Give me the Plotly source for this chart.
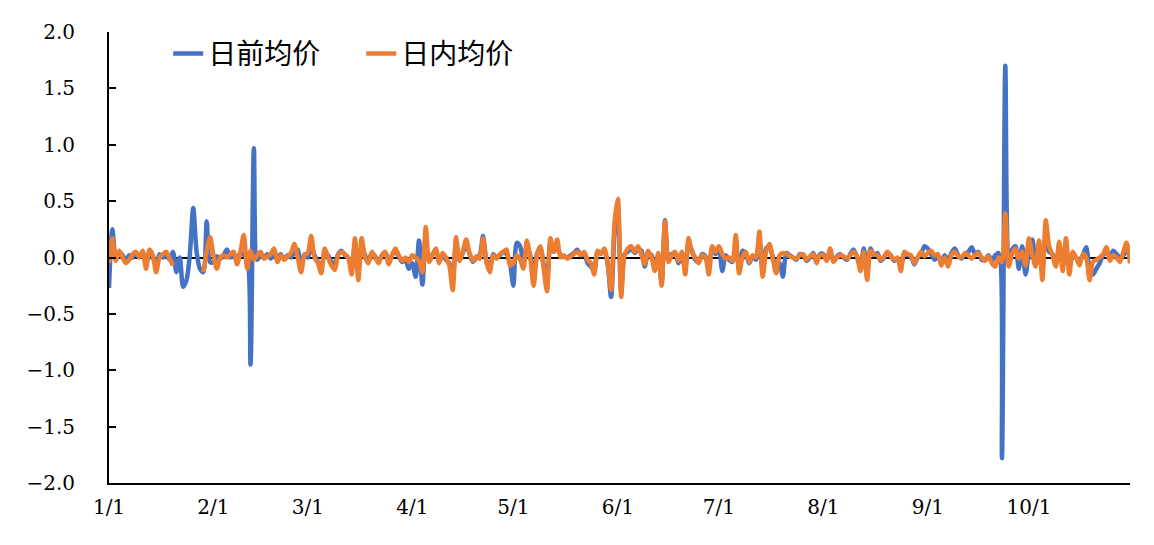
import pandas as pd
import plotly.graph_objects as go

# daily values, 1/1 .. 10/31
dates = pd.date_range("2023-01-01", "2023-10-31", freq="D")

day_ahead = (
    # Jan
    [-0.27, 0.25, 0.00, 0.05, 0.02, -0.03, 0.02, 0.00, 0.04, 0.01,
     0.03, -0.05, 0.04, 0.00, -0.06, 0.03, 0.00, 0.02, -0.02, 0.05,
     -0.13, 0.00, -0.26, -0.20, 0.03, 0.44, 0.05, -0.10, -0.13, 0.32, -0.04]
    # Feb
    + [-0.04, 0.01, -0.01, 0.02, 0.07, 0.00, 0.02, -0.03, 0.04, 0.02,
       0.00, -0.95, 0.97, -0.02, 0.02, 0.00, 0.03, -0.01, 0.04, 0.00,
       0.03, -0.02, 0.02, 0.00, 0.05, 0.07, -0.10, 0.03]
    # Mar
    + [0.00, 0.10, 0.02, -0.04, -0.08, 0.03, 0.02, -0.04, -0.05, 0.03,
       0.06, 0.02, 0.00, -0.10, 0.12, -0.12, 0.10, 0.02, -0.03, 0.04,
       0.01, -0.04, 0.02, 0.04, -0.03, 0.02, 0.06, 0.01, -0.04, -0.02, -0.10]
    # Apr
    + [-0.05, -0.17, 0.15, -0.24, 0.15, -0.02, 0.03, 0.06, -0.04, 0.03,
       -0.02, -0.05, -0.20, 0.12, -0.02, 0.04, 0.12, 0.03, -0.04, 0.00,
       0.02, 0.19, -0.03, -0.10, 0.03, 0.00, 0.02, 0.05, 0.03, -0.05]
    # May
    + [-0.25, 0.13, 0.10, -0.05, 0.10, 0.02, -0.15, 0.03, 0.08, -0.06,
       -0.20, 0.12, 0.05, 0.10, 0.02, 0.01, 0.00, 0.02, 0.04, 0.07,
       0.02, 0.04, -0.05, -0.08, -0.12, 0.05, 0.04, 0.06, -0.06, -0.35, 0.20]
    # Jun
    + [0.45, -0.30, 0.03, 0.05, 0.08, 0.04, 0.07, 0.06, -0.08, 0.04,
       0.02, -0.10, 0.02, -0.22, 0.33, -0.02, 0.03, 0.04, -0.05, 0.02,
       -0.10, 0.12, 0.06, -0.02, -0.04, 0.03, 0.01, -0.10, 0.08, 0.03]
    # Jul
    + [0.08, -0.12, 0.02, -0.02, -0.04, 0.08, -0.08, 0.06, 0.03, -0.05,
       0.01, -0.02, 0.15, -0.12, 0.08, 0.10, 0.00, -0.10, -0.05, -0.17,
       0.04, 0.02, 0.00, -0.02, 0.03, 0.02, -0.03, 0.00, 0.04, -0.04, 0.03]
    # Aug
    + [0.03, -0.02, 0.05, -0.03, 0.01, 0.03, 0.00, -0.02, 0.03, 0.07,
       0.00, -0.08, 0.08, -0.12, 0.08, 0.02, 0.04, -0.03, 0.00, 0.04,
       0.02, -0.03, -0.01, -0.08, 0.04, 0.02, 0.01, -0.06, 0.00, 0.03, 0.10]
    # Sep
    + [0.08, 0.03, -0.02, 0.01, -0.04, 0.02, -0.03, 0.04, 0.08, 0.02,
       -0.01, 0.03, 0.05, 0.09, 0.03, 0.05, -0.02, -0.02, 0.02, -0.03,
       0.02, 0.04, -1.78, 1.70, -0.05, 0.07, 0.10, -0.10, 0.10, -0.15]
    # Oct
    + [0.05, 0.16, -0.05, 0.10, -0.10, 0.20, 0.05, 0.03, -0.05, 0.08,
       -0.05, 0.10, -0.08, 0.02, 0.00, -0.03, 0.02, 0.09, -0.10, -0.15,
       -0.10, -0.05, 0.02, 0.05, 0.01, 0.06, 0.03, 0.00, 0.02, 0.05, 0.02]
)

intraday = (
    # Jan (no data 1/21-1/28)
    [-0.05, 0.17, -0.03, 0.06, 0.00, -0.05, -0.02, 0.03, 0.05, 0.00,
     0.06, -0.10, 0.07, 0.02, -0.13, 0.00, 0.03, 0.05, -0.01, -0.07,
     None, None, None, None, None, None, None, None, -0.13, 0.05, 0.18]
    # Feb
    + [0.02, -0.10, 0.00, 0.02, 0.00, 0.03, 0.05, -0.06, 0.05, 0.20,
       -0.10, 0.06, -0.02, 0.02, 0.05, -0.01, 0.01, 0.03, 0.08, -0.04,
       0.02, -0.02, 0.01, 0.04, 0.12, 0.00, -0.13, 0.02]
    # Mar
    + [0.04, 0.19, 0.00, -0.05, -0.14, 0.08, 0.00, -0.07, -0.11, 0.02,
       0.05, 0.03, 0.00, -0.15, 0.17, -0.20, 0.17, 0.00, -0.05, 0.05,
       0.00, -0.05, 0.02, 0.05, -0.06, 0.02, 0.08, 0.02, -0.03, 0.00, -0.04]
    # Apr
    + [0.02, 0.00, -0.03, -0.13, 0.27, -0.04, 0.02, 0.08, -0.05, 0.04,
       0.00, -0.07, -0.29, 0.18, -0.03, 0.05, 0.16, 0.04, -0.03, 0.01,
       -0.01, 0.17, -0.04, -0.13, 0.02, -0.01, 0.03, 0.05, 0.07, -0.07]
    # May
    + [-0.05, 0.02, -0.02, -0.10, 0.15, 0.00, -0.25, 0.02, 0.10, -0.10,
       -0.30, 0.17, 0.05, 0.16, 0.00, 0.02, -0.01, 0.01, 0.03, 0.05,
       0.02, 0.05, -0.02, -0.05, -0.15, 0.06, 0.03, 0.08, -0.05, -0.29, 0.30]
    # Jun
    + [0.52, -0.35, 0.02, 0.08, 0.10, 0.05, 0.10, 0.02, -0.06, 0.06,
       0.00, -0.12, 0.04, -0.25, 0.32, -0.04, 0.02, 0.05, -0.03, 0.05,
       -0.15, 0.17, 0.05, 0.00, -0.05, 0.02, 0.00, -0.15, 0.10, 0.05]
    # Jul
    + [0.10, 0.03, -0.01, 0.00, -0.03, 0.20, -0.14, 0.00, 0.05, -0.04,
       0.02, 0.00, 0.23, -0.17, 0.05, 0.12, -0.01, -0.14, 0.02, 0.04,
       0.03, 0.01, 0.00, -0.01, 0.02, 0.03, -0.02, 0.01, 0.03, -0.05, 0.02]
    # Aug
    + [0.02, -0.03, 0.08, -0.04, 0.00, 0.02, 0.01, -0.01, 0.02, 0.05,
       0.01, -0.12, 0.05, -0.20, 0.06, 0.03, 0.02, -0.02, 0.01, 0.05,
       0.01, -0.02, 0.00, -0.12, 0.05, 0.03, 0.02, -0.05, 0.00, 0.05, 0.01]
    # Sep
    + [0.04, 0.06, 0.02, 0.03, -0.07, 0.00, -0.08, 0.02, 0.05, 0.01,
       0.00, 0.04, 0.02, -0.01, 0.02, 0.04, 0.00, -0.03, 0.01, -0.05,
       -0.08, 0.00, -0.04, 0.39, -0.08, 0.03, 0.08, -0.01, 0.05, -0.07]
    # Oct
    + [0.17, 0.02, -0.08, 0.15, -0.20, 0.33, 0.10, 0.02, -0.08, 0.14,
       -0.12, 0.17, -0.15, 0.05, 0.00, -0.07, 0.03, 0.00, -0.20, -0.04,
       -0.02, 0.00, 0.03, 0.09, -0.03, 0.02, 0.00, -0.04, 0.05, 0.13, -0.05]
)

month_ticks = pd.date_range("2023-01-01", "2023-10-01", freq="MS")
month_labels = ["1/1", "2/1", "3/1", "4/1", "5/1", "6/1", "7/1", "8/1", "9/1", "10/1"]

SERIF = "DejaVu Serif, Noto Sans CJK SC, serif"
TICK_FONT = dict(family="DejaVu Serif", size=20, color="black")

fig = go.Figure()
fig.add_trace(go.Scatter(
    x=dates, y=day_ahead, name="日前均价", mode="lines",
    line=dict(color="#4472C4", width=4.5, shape="spline", smoothing=0.8),
))
fig.add_trace(go.Scatter(
    x=dates, y=intraday, name="日内均价", mode="lines",
    line=dict(color="#ED7D31", width=4.5, shape="spline", smoothing=0.8),
    connectgaps=False,
))

# page body has an 8px margin, so the margins are shifted by that much
fig.update_layout(
    width=1154, height=545,
    margin=dict(l=101, r=32, t=15, b=70),
    paper_bgcolor="white", plot_bgcolor="white",
    font=dict(family=SERIF, size=20, color="black"),
    showlegend=True,
    legend=dict(
        orientation="h", x=0.058, y=1.007, xanchor="left", yanchor="top",
        font=dict(size=28, family="Noto Sans CJK SC"),
        bgcolor="rgba(0,0,0,0)", entrywidth=148, entrywidthmode="pixels",
    ),
)
fig.update_xaxes(
    range=[dates[0], dates[-1]],
    tickvals=month_ticks, ticktext=month_labels, tickfont=TICK_FONT,
    showgrid=False, zeroline=False,
    showline=True, linecolor="black", linewidth=2,
    ticks="", ticklabelstandoff=5,
)
fig.update_yaxes(
    range=[-2, 2], dtick=0.5, tickformat=".1f", tickfont=TICK_FONT,
    showgrid=False,
    zeroline=True, zerolinecolor="black", zerolinewidth=1.5,
    showline=True, linecolor="black", linewidth=2,
    ticks="inside", ticklen=7, tickwidth=2, tickcolor="black",
    ticklabelstandoff=28,
)

fig.write_html("out.html")
